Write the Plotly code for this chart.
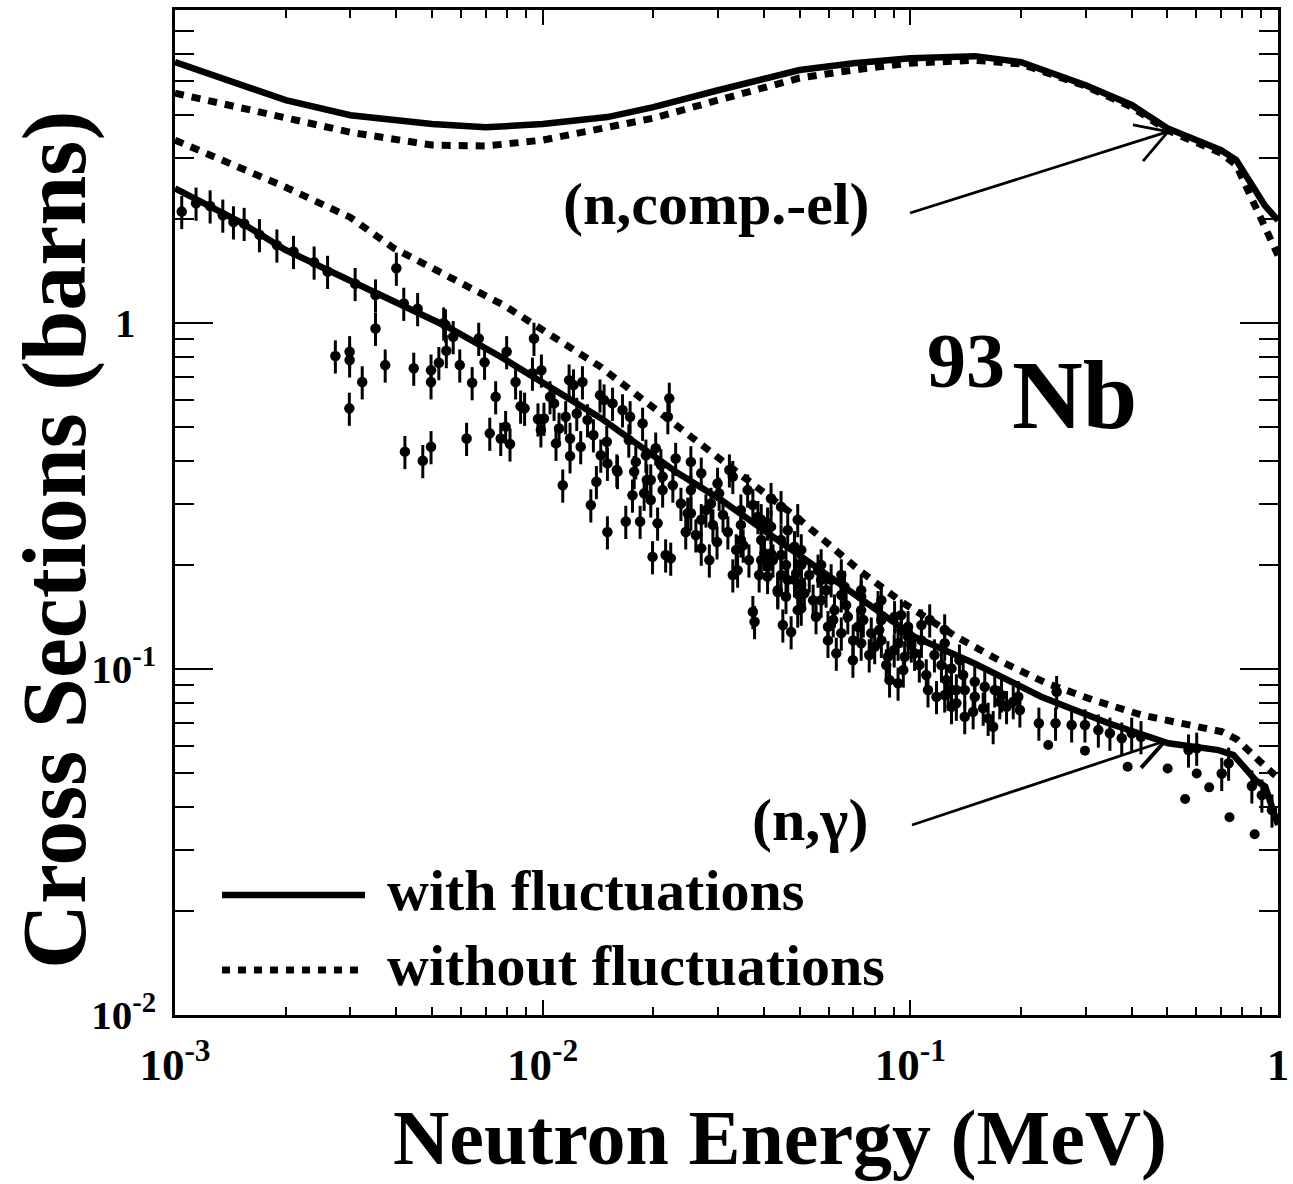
import plotly.graph_objects as go

# ---------------- data ----------------
# compound-elastic, with / without width fluctuations
comp_e = [1e-3, 1.5e-3, 2e-3, 3e-3, 5e-3, 7e-3, 1e-2, 1.5e-2, 2e-2, 3e-2, 5e-2, 7e-2,
          0.1, 0.15, 0.2, 0.3, 0.4, 0.5, 0.6, 0.7, 0.77, 0.85, 0.92, 1.0]
comp_with = [5.68, 4.91, 4.41, 3.99, 3.76, 3.68, 3.76, 3.94, 4.21, 4.71, 5.39, 5.64,
             5.83, 5.91, 5.68, 4.87, 4.27, 3.66, 3.38, 3.16, 2.96, 2.51, 2.19, 1.98]
comp_without = [4.62, 4.21, 3.94, 3.56, 3.27, 3.25, 3.38, 3.66, 3.91, 4.41, 5.11, 5.39,
                5.64, 5.75, 5.61, 4.84, 4.21, 3.61, 3.31, 3.10, 2.86, 2.27, 1.88, 1.57]

# (n,gamma) with fluctuations
ng_with_e = [1e-3, 1.5e-3, 2e-3, 3.4e-3, 5.5e-3, 7.7e-3, 1.44e-2, 2.33e-2, 3.06e-2, 5.05e-2,
             0.1025, 0.149, 0.227, 0.346, 0.5035, 0.689, 0.757, 0.815, 0.867, 0.923, 1.0]
ng_with = [2.45, 1.963, 1.626, 1.245, 0.976, 0.798, 0.531, 0.3685, 0.308, 0.2112,
           0.124, 0.1039, 0.0832, 0.0697, 0.0610, 0.0583, 0.0564, 0.0516, 0.0478, 0.0457, 0.0354]

# (n,gamma) without fluctuations
ng_without_e = [1e-3, 2e-3, 3e-3, 3.93e-3, 7.83e-3, 1.44e-2, 3.06e-2, 5.05e-2, 7.26e-2, 9.45e-2,
                0.1334, 0.177, 0.2347, 0.3152, 0.426, 0.5754, 0.703, 0.773, 0.834, 0.894, 1.0]
ng_without = [3.38, 2.47, 2.02, 1.648, 1.127, 0.746, 0.402, 0.268, 0.193, 0.1565,
              0.124, 0.105, 0.091, 0.0813, 0.0736, 0.0689, 0.0659, 0.0626, 0.0583, 0.054, 0.0484]

# experimental (n,gamma) points with error bars
exp_e = [1.043e-3, 1.141e-3, 1.246e-3, 1.349e-3, 1.442e-3, 1.542e-3, 1.697e-3, 1.893e-3, 2.10e-3, 2.39e-3,
         2.60e-3, 3.09e-3, 3.51e-3, 3.51e-3, 4.00e-3, 4.19e-3, 4.57e-3, 5.44e-3, 2.73e-3, 2.985e-3,
         2.985e-3, 3.23e-3, 2.98e-3, 3.73e-3, 4.46e-3, 4.97e-3, 4.97e-3, 5.22e-3, 5.47e-3, 4.22e-3,
         4.72e-3, 4.97e-3, 5.38e-3, 5.71e-3, 5.95e-3, 6.70e-3, 6.95e-3, 6.43e-3, 7.45e-3, 7.98e-3,
         8.44e-3, 9.47e-3, 9.38e-3, 9.92e-3, 8.71e-3, 8.93e-3, 6.21e-3, 7.18e-3, 7.69e-3, 7.93e-3,
         8.15e-3, 9.71e-3, 1.008e-2, 9.89e-3, 1.047e-2, 1.074e-2, 1.18e-2, 1.213e-2, 1.283e-2, 1.155e-2,
         1.108e-2, 1.238e-2, 1.087e-2, 1.187e-2, 1.187e-2, 1.269e-2, 1.374e-2, 1.324e-2, 1.432e-2, 1.469e-2,
         1.549e-2, 1.439e-2, 1.50e-2, 1.598e-2, 1.729e-2, 1.649e-2, 1.134e-2, 1.40e-2, 1.352e-2, 1.50e-2,
         1.683e-2, 1.841e-2, 1.755e-2, 1.774e-2, 1.920e-2, 1.888e-2, 1.87e-2, 2.21e-2, 2.19e-2, 2.054e-2,
         1.99e-2, 2.16e-2, 2.23e-2, 1.494e-2, 1.591e-2, 1.968e-2, 2.12e-2, 1.968e-2, 2.12e-2, 1.792e-2,
         2.03e-2, 2.30e-2, 2.53e-2, 2.377e-2, 2.48e-2, 2.45e-2, 2.70e-2, 2.70e-2, 2.84e-2, 2.98e-2,
         3.19e-2, 3.36e-2, 3.29e-2, 3.39e-2, 3.02e-2, 3.22e-2, 3.29e-2, 2.99e-2, 3.61e-2, 3.73e-2,
         3.85e-2, 4.18e-2, 4.18e-2, 4.01e-2, 4.09e-2, 4.36e-2, 4.64e-2, 4.89e-2, 3.73e-2, 3.77e-2,
         4.50e-2, 4.94e-2, 4.64e-2, 4.84e-2, 2.70e-2, 2.53e-2, 2.87e-2, 0.1129, 4.74e-2, 5.97e-2,
         6.29e-2, 6.98e-2, 8.78e-2, 9.26e-2, 0.1117, 0.1178, 0.1267, 0.1334, 4.09e-2, 4.36e-2,
         4.59e-2, 5.05e-2, 5.54e-2, 5.97e-2, 6.49e-2, 7.35e-2, 8.00e-2, 8.69e-2, 9.65e-2, 0.1027,
         4.84e-2, 5.15e-2, 5.72e-2, 6.22e-2, 6.76e-2, 7.20e-2, 7.83e-2, 8.34e-2, 9.26e-2, 9.86e-2,
         4.84e-2, 4.45e-2, 5.05e-2, 5.61e-2, 6.09e-2, 6.62e-2, 7.35e-2, 8.17e-2, 9.06e-2, 9.86e-2,
         4.09e-2, 4.18e-2, 4.94e-2, 4.45e-2, 0.1240, 0.1240, 0.1294, 0.1253, 0.1240, 0.1294,
         0.1392, 0.1334, 0.1406, 0.1406, 0.1497, 0.1497, 0.1482, 0.1594, 0.1578, 0.1628,
         0.1680, 0.1697, 0.1770, 0.1751, 0.1827, 0.1905, 0.1966, 0.1986, 0.2237, 0.2483,
         0.250, 0.2746, 0.2985, 0.3246, 0.349, 0.3758, 0.400, 0.424, 0.703, 0.734,
         0.601, 0.571, 0.849, 0.904, 0.963,
         3.46e-2, 3.46e-2, 3.46e-2, 3.93e-2, 3.93e-2, 3.93e-2, 4.45e-2, 4.45e-2, 5.05e-2, 5.05e-2,
         5.05e-2, 5.72e-2, 5.72e-2, 6.49e-2, 6.49e-2, 7.35e-2, 7.35e-2, 8.34e-2, 8.34e-2, 9.45e-2,
         9.45e-2, 0.1072, 0.1072,
         1.715e-2, 1.909e-2, 2.097e-2, 2.26e-2, 2.53e-2, 2.61e-2, 2.78e-2, 2.904e-2, 3.094e-2, 3.51e-2,
         3.64e-2, 3.88e-2, 4.23e-2, 4.59e-2, 4.98e-2, 5.31e-2, 5.44e-2, 5.90e-2, 6.17e-2, 6.69e-2,
         6.99e-2, 7.45e-2, 7.73e-2, 8.23e-2, 8.60e-2, 9.04e-2, 9.57e-2, 0.1006, 0.1058, 0.1105,
         0.1163, 0.1215, 0.1293, 0.136]
exp_sigma = [2.10, 2.22, 2.18, 2.05, 1.96, 1.94, 1.80, 1.68, 1.61, 1.50,
             1.41, 1.30, 1.205, 0.965, 1.44, 1.14, 1.10, 0.987, 0.803, 0.826,
             0.782, 0.676, 0.567, 0.756, 0.740, 0.731, 0.676, 0.768, 0.832, 0.425,
             0.400, 0.439, 1.00, 0.913, 0.756, 0.903, 0.770, 0.672, 0.612, 0.826,
             0.676, 0.903, 0.716, 0.731, 0.575, 0.567, 0.464, 0.480, 0.464, 0.502,
             0.447, 0.528, 0.530, 0.491, 0.612, 0.586, 0.684, 0.662, 0.676, 0.536,
             0.496, 0.548, 0.449, 0.464, 0.413, 0.439, 0.475, 0.525, 0.619, 0.599,
             0.586, 0.415, 0.393, 0.372, 0.536, 0.561, 0.340, 0.348, 0.298, 0.249,
             0.267, 0.267, 0.318, 0.372, 0.352, 0.322, 0.513, 0.606, 0.536, 0.264,
             0.211, 0.2136, 0.209, 0.454, 0.376, 0.308, 0.329, 0.352, 0.360, 0.397,
             0.435, 0.406, 0.397, 0.301, 0.282, 0.249, 0.270, 0.2233, 0.2065, 0.233,
             0.249, 0.221, 0.187, 0.193, 0.322, 0.376, 0.360, 0.344, 0.329, 0.298,
             0.2756, 0.311, 0.258, 0.216, 0.185, 0.167, 0.181, 0.189, 0.1465, 0.137,
             0.134, 0.148, 0.252, 0.2233, 0.368, 0.282, 0.301, 0.1386, 0.128, 0.121,
             0.111, 0.106, 0.0929, 0.0910, 0.0870, 0.0832, 0.0851, 0.0796, 0.1976, 0.169,
             0.162, 0.1498, 0.1416, 0.1325, 0.127, 0.1187, 0.116, 0.1085, 0.1085, 0.111,
             0.181, 0.1655, 0.158, 0.148, 0.1416, 0.1325, 0.127, 0.121, 0.1187, 0.124,
             0.2257, 0.236, 0.202, 0.193, 0.181, 0.173, 0.162, 0.1514, 0.1416, 0.1325,
             0.264, 0.216, 0.270, 0.2945, 0.1297, 0.1187, 0.1004, 0.0929, 0.0841, 0.0778,
             0.0961, 0.0870, 0.0870, 0.0728, 0.0919, 0.0832, 0.0752, 0.0889, 0.0770, 0.0720,
             0.0681, 0.0870, 0.0841, 0.0804, 0.0778, 0.0804, 0.0832, 0.0761, 0.0697, 0.0697,
             0.0860, 0.0689, 0.0689, 0.0666, 0.0652, 0.0631, 0.0652, 0.0637, 0.0499, 0.0534,
             0.0590, 0.0583, 0.0459, 0.0432, 0.0391,
             0.288, 0.261, 0.236, 0.270, 0.236, 0.2065, 0.2136, 0.187, 0.221, 0.200,
             0.175, 0.200, 0.181, 0.187, 0.1637, 0.169, 0.148, 0.158, 0.1386, 0.1432,
             0.1297, 0.134, 0.121,
             0.459, 0.415, 0.389, 0.340, 0.329, 0.244, 0.288, 0.261, 0.279, 0.228,
             0.2065, 0.187, 0.2065, 0.200, 0.1637, 0.187, 0.158, 0.169, 0.1386, 0.153,
             0.121, 0.1386, 0.1098, 0.1297, 0.1027, 0.1135, 0.0993, 0.1173, 0.1027, 0.0961,
             0.1098, 0.1027, 0.0870, 0.1061]
exp_rel_err = 11  # percent

# points without visible error bars
dot_e = [0.2372, 0.2985, 0.390, 0.501, 0.601, 0.650, 0.559, 0.738, 0.864]
dot_sigma = [0.0603, 0.0581, 0.0522, 0.0516, 0.0499, 0.0455, 0.0421, 0.0373, 0.0333]

x_tick_vals = [1e-3, 1e-2, 1e-1, 1]
x_tick_text = ["10<sup>-3</sup>", "10<sup>-2</sup>", "10<sup>-1</sup>", "1"]
y_tick_vals = [1e-2, 1e-1, 1]
y_tick_text = ["10<sup>-2</sup>", "10<sup>-1</sup>", "1\u00a0\u00a0"]

# ---------------- figure ----------------
FONT = "Liberation Serif"
fig = go.Figure()

fig.add_trace(go.Scatter(
    x=exp_e, y=exp_sigma, mode="markers",
    marker=dict(color="black", size=10.5, symbol="circle"),
    error_y=dict(type="percent", value=exp_rel_err, color="black", thickness=3, width=0),
    showlegend=False))
fig.add_trace(go.Scatter(
    x=dot_e, y=dot_sigma, mode="markers",
    marker=dict(color="black", size=10, symbol="circle"), showlegend=False))

solid = dict(color="black", width=6.5)
dotted = dict(color="black", width=7, dash="9px,8px")
fig.add_trace(go.Scatter(x=comp_e, y=comp_with, mode="lines", line=solid, showlegend=False))
fig.add_trace(go.Scatter(x=comp_e, y=comp_without, mode="lines", line=dotted, showlegend=False))
fig.add_trace(go.Scatter(x=ng_with_e, y=ng_with, mode="lines", line=solid, showlegend=False))
fig.add_trace(go.Scatter(x=ng_without_e, y=ng_without, mode="lines", line=dotted, showlegend=False))

x_minor = [m * 10.0 ** k for k in range(-3, 0) for m in range(2, 10)]
y_minor = [m * 10.0 ** k for k in range(-2, 1) for m in range(2, 10)]

axis_common = dict(type="log", showline=True, linecolor="black", linewidth=2.5, mirror="ticks",
                   ticks="inside", tickcolor="black", showgrid=False, zeroline=False,
                   tickmode="array", automargin=False)

fig.update_xaxes(**axis_common, range=[-3, 0], tickvals=x_tick_vals, ticktext=x_tick_text,
                 ticklen=15, tickwidth=2,
                 tickfont=dict(family=FONT, size=45, color="black", weight="bold"),
                 minor=dict(ticks="inside", ticklen=8, tickwidth=2, tickcolor="black",
                            tickmode="array", tickvals=x_minor, showgrid=False),
                 ticklabelstandoff=8)
fig.update_yaxes(**axis_common, range=[-2, 0.905], tickvals=y_tick_vals, ticktext=y_tick_text,
                 ticklen=38, tickwidth=2,
                 tickfont=dict(family=FONT, size=41, color="black", weight="bold"),
                 minor=dict(ticks="inside", ticklen=19, tickwidth=2, tickcolor="black",
                            tickmode="array", tickvals=y_minor, showgrid=False),
                 ticklabelstandoff=8)

def txt(s, x, y, size, xanchor="center", angle=0):
    return dict(text="<b>" + s + "</b>", x=x, y=y, xref="paper", yref="paper",
                xanchor=xanchor, yanchor="middle", showarrow=False, textangle=angle,
                font=dict(family=FONT, size=size, color="black"))

annotations = [
    txt("Neutron Energy (MeV)", 0.5485, -0.1214, 78),
    txt("Cross Sections (barns)", -0.1088, 0.4726, 90, angle=-90),
    txt("(n,comp.-el)", 0.6319, 0.807, 60, xanchor="right"),
    txt("(n,γ)", 0.6301, 0.194, 60, xanchor="right"),
    txt("93", 0.7175, 0.6517, 78),
    txt("Nb", 0.757, 0.617, 98, xanchor="left"),
    txt("with fluctuations", 0.1904, 0.1234, 58, xanchor="left"),
    txt("without fluctuations", 0.1904, 0.0488, 58, xanchor="left"),
]

def seg(x0, y0, x1, y1, width=2.8, dash=None):
    ln = dict(color="black", width=width)
    if dash:
        ln["dash"] = dash
    return dict(type="line", xref="paper", yref="paper", x0=x0, y0=y0, x1=x1, y1=y1, line=ln)

shapes = [
    # legend samples
    seg(0.0426, 0.1194, 0.1723, 0.1194, width=6.5),
    seg(0.0426, 0.0448, 0.1723, 0.0448, width=7, dash="8px,8px"),
    # arrow to (n,comp.-el)
    seg(0.6664, 0.7980, 0.9003, 0.8789),
    seg(0.8685, 0.8856, 0.9003, 0.8789),
    seg(0.8776, 0.8497, 0.9003, 0.8789),
    # arrow to (n,gamma)
    seg(0.6682, 0.1891, 0.8976, 0.2726),
    seg(0.8655, 0.2798, 0.8976, 0.2726),
    seg(0.8759, 0.2459, 0.8976, 0.2726, width=4),
]

fig.update_layout(
    width=1293, height=1184,
    margin=dict(l=175, r=15, t=10, b=169),
    paper_bgcolor="white", plot_bgcolor="white",
    font=dict(family=FONT, color="black"),
    annotations=annotations, shapes=shapes,
    showlegend=False,
)

fig.write_html("out.html", config={"displayModeBar": False},
               post_script="document.body.style.margin='0px';")
